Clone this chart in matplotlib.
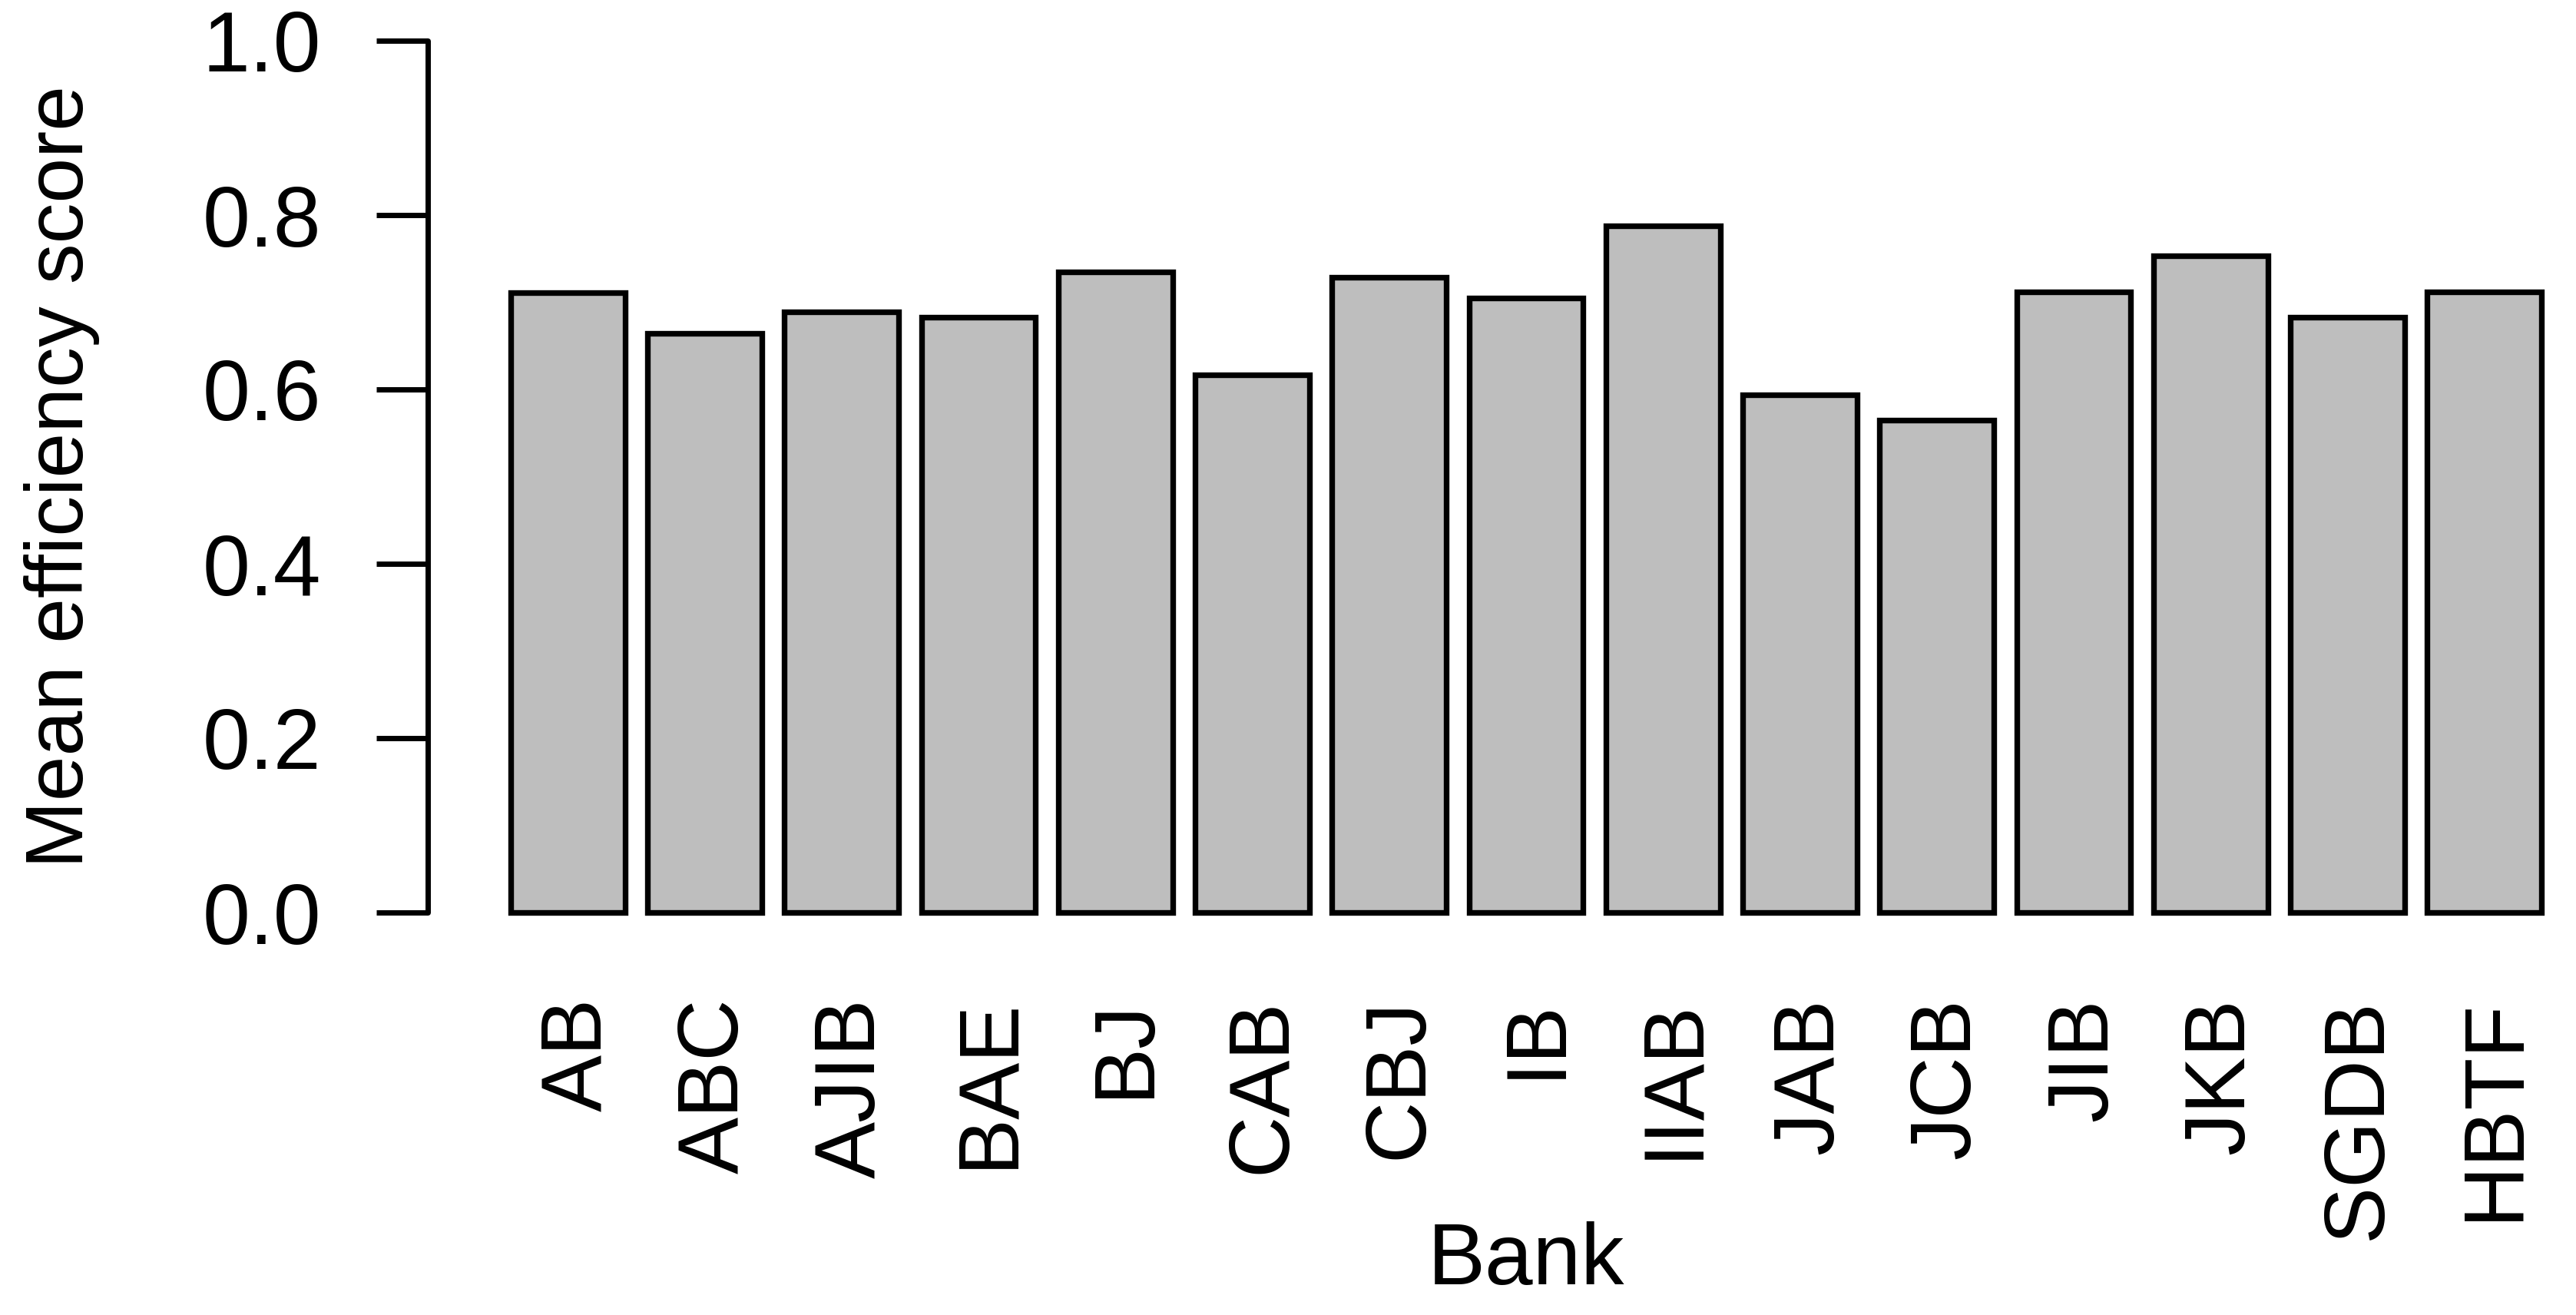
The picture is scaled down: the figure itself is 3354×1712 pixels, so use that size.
import matplotlib
matplotlib.use("Agg")
import matplotlib.pyplot as plt
import matplotlib.transforms as mtransforms

banks = ["AB", "ABC", "AJIB", "BAE", "BJ", "CAB", "CBJ", "IB", "IIAB",
         "JAB", "JCB", "JIB", "JKB", "SGDB", "HBTF"]
scores = [0.711, 0.664, 0.689, 0.683, 0.735, 0.617, 0.729, 0.705, 0.788,
          0.594, 0.565, 0.712, 0.753, 0.683, 0.712]
yticks = [0.0, 0.2, 0.4, 0.6, 0.8, 1.0]

plt.rcParams['font.family'] = ['Liberation Sans', 'DejaVu Sans']
W, H = 3354, 1712
fig = plt.figure(figsize=(W / 100, H / 100), dpi=100)

# pixel geometry of the plot region (R barplot style: width 1, space 0.2)
ax_left_px, y0_px, y1_px = 557, 1188, 53
ax = fig.add_axes([ax_left_px / W, 1 - y0_px / H,
                   1 - ax_left_px / W, (y0_px - y1_px) / H])

px_per_unit = (3309 - 665) / 17.8
x_left = 0.2 - (665 - ax_left_px) / px_per_unit
x_right = 0.2 + (W - 665) / px_per_unit

centers = [0.2 + i * 1.2 + 0.5 for i in range(len(banks))]
ax.bar(centers, scores, width=1.0, color="#bebebe", edgecolor="black",
       linewidth=5.3, clip_on=False)

ax.set_xlim(x_left, x_right)
ax.set_ylim(0, 1)
for s in ["top", "right", "bottom"]:
    ax.spines[s].set_visible(False)
ax.spines["left"].set_linewidth(5.0)
ax.spines["left"].set_capstyle("round")

ax.set_yticks(yticks)
ax.set_yticklabels([f"{v:.1f}" for v in yticks])
ax.tick_params(axis="y", length=48, width=5.0, labelsize=80, pad=52)
ax.set_xticks(centers)
ax.set_xticklabels(banks, rotation=90, fontsize=80)
ax.tick_params(axis="x", length=0, pad=80)
off = mtransforms.ScaledTranslation(0.14, 0, fig.dpi_scale_trans)
for lab in ax.get_xticklabels():
    lab.set_transform(lab.get_transform() + off)

ax.set_ylabel("Mean efficiency score", fontsize=76, labelpad=96)
fig.text((665 + 3309) / 2 / W, 1 - 1643 / H, "Bank", fontsize=81,
         ha="center", va="center")

fig.savefig("out.png", dpi=100)
